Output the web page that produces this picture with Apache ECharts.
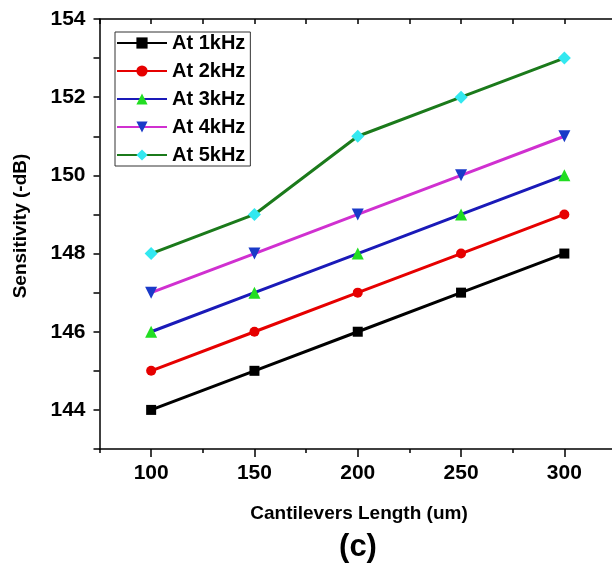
<!DOCTYPE html>
<html>
<head>
<meta charset="utf-8">
<script src="https://cdn.jsdelivr.net/npm/echarts@6/dist/echarts.min.js"></script>
<style>
html,body{margin:0;padding:0;background:#fff;}
#c{width:612px;height:568px;}
</style>
</head>
<body>
<div id="c"></div>
<script>
var lengths = [100, 150, 200, 250, 300];
var at1kHz = [144, 145, 146, 147, 148];
var at2kHz = [145, 146, 147, 148, 149];
var at3kHz = [146, 147, 148, 149, 150];
var at4kHz = [147, 148, 149, 150, 151];
var at5kHz = [148, 149, 151, 152, 153];
var xTickLabels = [100, 150, 200, 250, 300];
var yTickLabels = [144, 146, 148, 150, 152, 154];
var seriesNames = ['At 1kHz', 'At 2kHz', 'At 3kHz', 'At 4kHz', 'At 5kHz'];
var xTitle = 'Cantilevers Length (um)';
var yTitle = 'Sensitivity (-dB)';
var panelLabel = '(c)';

var FONT = '"Liberation Sans", Arial, sans-serif';
function pairs(ys){ return lengths.map(function(x,i){ return [x, ys[i]]; }); }

var styles = [
  {line:'#000000', mark:'#000000', symbol:'rect', size:10, rot:0},
  {line:'#e60000', mark:'#e60000', symbol:'circle', size:10, rot:0},
  {line:'#1a1ab8', mark:'#22dd22', symbol:'triangle', size:12, rot:0},
  {line:'#d030d0', mark:'#1a3ac8', symbol:'triangle', size:12, rot:180},
  {line:'#1b7a1b', mark:'#33e8f0', symbol:'diamond', size:13, rot:0}
];
var data = [at1kHz, at2kHz, at3kHz, at4kHz, at5kHz];

var series = data.map(function(d, i){
  var s = styles[i];
  return {
    name: seriesNames[i], type: 'line', data: pairs(d),
    symbol: s.symbol, symbolSize: s.size, symbolRotate: s.rot,
    lineStyle: {color: s.line, width: 3},
    itemStyle: {color: s.mark},
    emphasis: {disabled: true},
    animation: false, z: 2 + i
  };
});

var chart = echarts.init(document.getElementById('c'), null, {renderer:'canvas'});
chart.setOption({
  backgroundColor: '#fff',
  animation: false,
  grid: {left: 99.5, top: 19, width: 516.5, height: 430, containLabel: false, outerBoundsMode: 'none'},
  graphic: [
    {type: 'text', x: 21, y: 226, rotation: Math.PI / 2,
     style: {text: yTitle, fontFamily: FONT, fontSize: 19, fontWeight: 'bold', fill: '#000',
             textAlign: 'center', textVerticalAlign: 'middle'}},
    {type: 'text', x: 359, y: 514,
     style: {text: xTitle, fontFamily: FONT, fontSize: 19, fontWeight: 'bold', fill: '#000',
             textAlign: 'center', textVerticalAlign: 'middle'}},
    {type: 'text', x: 358, y: 547,
     style: {text: panelLabel, fontFamily: FONT, fontSize: 31, fontWeight: 'bold', fill: '#000',
             textAlign: 'center', textVerticalAlign: 'middle'}}
  ],
  legend: {
    orient: 'vertical', left: 115, top: 32,
    data: seriesNames,
    itemWidth: 50, itemHeight: 14, itemGap: 8,
    padding: [1, 5, 1, 1],
    borderColor: '#333', borderWidth: 1,
    textStyle: {fontFamily: FONT, fontSize: 20, fontWeight: 'bold', color: '#000', lineHeight: 20}
  },
  xAxis: [{
    type: 'value', min: 75, max: 325, interval: 50,
    axisLine: {show: true, onZero: false, lineStyle: {color: '#000', width: 1.5}},
    axisTick: {show: true, inside: false, length: 4, lineStyle: {color: '#000', width: 1.5}},
    minorTick: {show: true, splitNumber: 2, length: 8, lineStyle: {color: '#000', width: 1.5}},
    splitLine: {show: false}, minorSplitLine: {show: false},
    axisLabel: {customValues: xTickLabels, fontFamily: FONT, fontSize: 21, fontWeight: 'bold', color: '#000', margin: 14}
  }, {
    type: 'value', position: 'top', min: 75, max: 325, interval: 25,
    axisLine: {show: true, onZero: false, lineStyle: {color: '#000', width: 1.5}},
    axisTick: {show: true, inside: true, length: 5, lineStyle: {color: '#000', width: 1.5}},
    axisLabel: {show: false}, splitLine: {show: false}
  }],
  yAxis: {
    type: 'value', min: 143, max: 154, interval: 1,
    axisLine: {show: true, onZero: false, lineStyle: {color: '#000', width: 1.5}},
    axisTick: {show: true, inside: false, length: 6, lineStyle: {color: '#000', width: 1.5}},
    splitLine: {show: false},
    axisLabel: {customValues: yTickLabels, fontFamily: FONT, fontSize: 21, fontWeight: 'bold', color: '#000', margin: 14}
  },
  series: series
});
</script>
</body>
</html>
